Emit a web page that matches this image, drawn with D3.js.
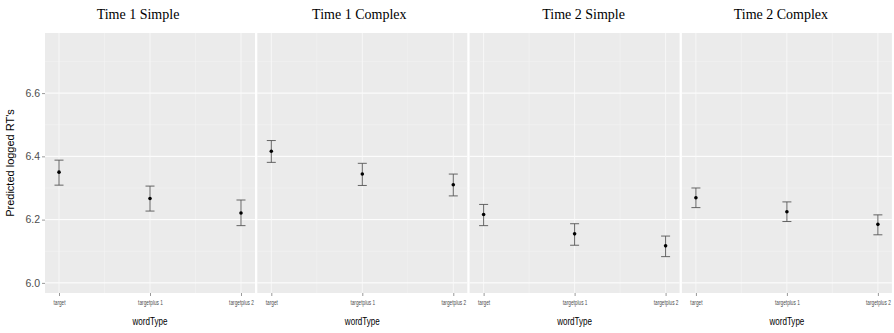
<!DOCTYPE html>
<html>
<head>
<meta charset="utf-8">
<script src="https://cdn.jsdelivr.net/npm/d3@7"></script>
<style>
  body { margin: 0; background: #fff; }
  svg { display: block; }
</style>
</head>
<body>
<svg id="chart" width="894" height="333"></svg>
<script>
// facet panels and categories
const panels = ["Time 1 Simple", "Time 1 Complex", "Time 2 Simple", "Time 2 Complex"];
const wordTypes = ["target", "targetplus 1", "targetplus 2"];

// predicted values and CI bounds, one row per panel
const fitValues = [
  [6.350, 6.267, 6.221],
  [6.416, 6.344, 6.310],
  [6.216, 6.155, 6.117],
  [6.269, 6.225, 6.185]
];
const lowerValues = [
  [6.309, 6.227, 6.181],
  [6.381, 6.308, 6.275],
  [6.181, 6.119, 6.083],
  [6.238, 6.194, 6.152]
];
const upperValues = [
  [6.388, 6.306, 6.262],
  [6.450, 6.378, 6.344],
  [6.248, 6.187, 6.148],
  [6.300, 6.256, 6.215]
];

const yTicks = [6.0, 6.2, 6.4, 6.6];
const yMinor = [6.1, 6.3, 6.5, 6.7];

const svg = d3.select("#chart");

const plotLeft = 45, plotTop = 33, plotBottom = 293;
const panelW = 210, gap = 2.3;
// titles were placed by hand in the original, not exactly centred
const titleShift = [-12, -3, 9, -6];

const y = d3.scaleLinear()
  .domain([5.968, 6.79])
  .range([plotBottom, plotTop]);

const x = d3.scalePoint()
  .domain(wordTypes)
  .range([0, panelW])
  .padding(0.154);

// squeeze a text horizontally, the original used a narrow face
function narrow(sel, k) {
  sel.each(function () {
    const len = this.getComputedTextLength();
    d3.select(this).attr("textLength", len * k).attr("lengthAdjust", "spacingAndGlyphs");
  });
}

// y axis
const yAxis = svg.append("g")
  .attr("transform", "translate(" + plotLeft + ",0)")
  .call(d3.axisLeft(y).tickValues(yTicks).tickFormat(d3.format(".1f")).tickSize(3).tickPadding(2));
yAxis.select(".domain").remove();
yAxis.selectAll("line").attr("stroke", "#333").attr("stroke-width", 0.5);
yAxis.selectAll("text")
  .attr("fill", "#4d4d4d")
  .style("font-family", "Liberation Sans, Arial, sans-serif")
  .style("font-size", "10.5px");

svg.append("text")
  .attr("transform", "translate(14," + ((plotTop + plotBottom) / 2) + ") rotate(-90)")
  .attr("text-anchor", "middle")
  .style("font-family", "Liberation Sans, Arial, sans-serif")
  .style("font-size", "11px")
  .attr("fill", "#000")
  .text("Predicted logged RT's");

panels.forEach(function (name, i) {
  const px = plotLeft + i * (panelW + gap);
  const g = svg.append("g").attr("transform", "translate(" + px + ",0)");

  g.append("rect")
    .attr("x", 0).attr("y", plotTop)
    .attr("width", panelW).attr("height", plotBottom - plotTop)
    .attr("fill", "#ebebeb");

  // minor grid
  g.selectAll(".hminor").data(yMinor).enter().append("line")
    .attr("x1", 0).attr("x2", panelW)
    .attr("y1", d => y(d)).attr("y2", d => y(d))
    .attr("stroke", "#f5f5f5").attr("stroke-width", 0.5);
  const mids = d3.pairs(wordTypes).map(p => (x(p[0]) + x(p[1])) / 2);
  g.selectAll(".vminor").data(mids).enter().append("line")
    .attr("x1", d => d).attr("x2", d => d)
    .attr("y1", plotTop).attr("y2", plotBottom)
    .attr("stroke", "#f5f5f5").attr("stroke-width", 0.5);

  // major grid
  g.selectAll(".hmajor").data(yTicks).enter().append("line")
    .attr("x1", 0).attr("x2", panelW)
    .attr("y1", d => y(d)).attr("y2", d => y(d))
    .attr("stroke", "#fff").attr("stroke-width", 1);
  g.selectAll(".vmajor").data(wordTypes).enter().append("line")
    .attr("x1", d => x(d)).attr("x2", d => x(d))
    .attr("y1", plotTop).attr("y2", plotBottom)
    .attr("stroke", "#fafafa").attr("stroke-width", 0.8);

  // x axis
  const xAxis = g.append("g")
    .attr("transform", "translate(0," + plotBottom + ")")
    .call(d3.axisBottom(x).tickSize(3).tickPadding(4));
  xAxis.select(".domain").remove();
  xAxis.selectAll("line").attr("stroke", "#333").attr("stroke-width", 0.5);
  xAxis.selectAll("text")
    .attr("fill", "#4d4d4d")
    .style("font-family", "Liberation Sans, Arial, sans-serif")
    .style("font-size", "7.2px")
    .call(narrow, 0.66);

  g.append("text")
    .attr("x", panelW / 2).attr("y", 325)
    .attr("text-anchor", "middle")
    .style("font-family", "Liberation Sans, Arial, sans-serif")
    .style("font-size", "11.5px")
    .text("wordType")
    .call(narrow, 0.7);

  g.append("text")
    .attr("x", panelW / 2 + titleShift[i]).attr("y", 19)
    .attr("text-anchor", "middle")
    .style("font-family", "Liberation Serif, Times New Roman, serif")
    .style("font-size", "14px")
    .text(name);

  // error bars
  const rows = wordTypes.map((w, j) => ({
    w: w, fit: fitValues[i][j], lo: lowerValues[i][j], hi: upperValues[i][j]
  }));
  const eb = g.selectAll(".eb").data(rows).enter().append("g")
    .attr("stroke", "#555").attr("stroke-width", 0.9);
  eb.append("line")
    .attr("x1", d => x(d.w)).attr("x2", d => x(d.w))
    .attr("y1", d => y(d.lo)).attr("y2", d => y(d.hi));
  eb.append("line")
    .attr("x1", d => x(d.w) - 4.5).attr("x2", d => x(d.w) + 4.5)
    .attr("y1", d => y(d.lo)).attr("y2", d => y(d.lo));
  eb.append("line")
    .attr("x1", d => x(d.w) - 4.5).attr("x2", d => x(d.w) + 4.5)
    .attr("y1", d => y(d.hi)).attr("y2", d => y(d.hi));

  g.selectAll(".pt").data(rows).enter().append("circle")
    .attr("cx", d => x(d.w)).attr("cy", d => y(d.fit))
    .attr("r", 1.8).attr("fill", "#000");
});
</script>
</body>
</html>
